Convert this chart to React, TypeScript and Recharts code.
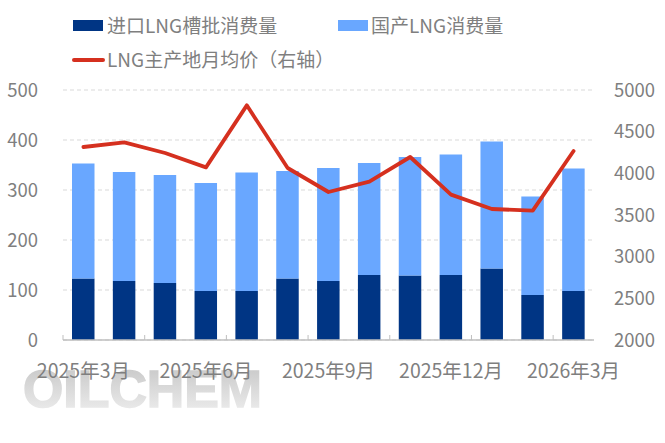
import { Bar, CartesianGrid, ComposedChart, Line, XAxis, YAxis } from "recharts";

const months = [
  "2025年3月", "2025年4月", "2025年5月", "2025年6月", "2025年7月", "2025年8月", "2025年9月",
  "2025年10月", "2025年11月", "2025年12月", "2026年1月", "2026年2月", "2026年3月",
];
const imported = [123, 118, 114, 98, 98, 123, 118, 130, 129, 130, 143, 90, 98];
const domestic = [230, 218, 216, 216, 237, 215, 226, 224, 237, 241, 254, 197, 245];
const price = [4316, 4372, 4244, 4072, 4816, 4064, 3776, 3900, 4196, 3744, 3572, 3552, 4268];
const leftTicks = [0, 100, 200, 300, 400, 500];
const rightTicks = [2000, 2500, 3000, 3500, 4000, 4500, 5000];

const rows = months.map((month, i) => ({
  month,
  imported: imported[i],
  domestic: domestic[i],
  price: price[i],
}));

const FONT = "'Noto Sans CJK SC', 'Noto Sans', sans-serif";
const GREY = "#7f7f7f";
const BAND = 531 / 13;

function MonthTick({ x, y, index, payload }: any) {
  const edge = x - BAND / 2;
  return (
    <g>
      {index % 2 === 0 && <line x1={edge} x2={edge} y1={y - 7} y2={y - 2} stroke="#bfbfbf" />}
      {index % 3 === 0 && (
        <text x={x} y={y + 36} textAnchor="middle" fill={GREY} fontSize={19.5} fontFamily={FONT}>
          {payload.value}
        </text>
      )}
    </g>
  );
}

function ChartLegend() {
  const text = { position: "absolute", color: GREY, fontSize: 19, lineHeight: "26px", whiteSpace: "nowrap" } as const;
  return (
    <div style={{ position: "absolute", left: 0, top: 0, width: 665, height: 80, fontFamily: FONT }}>
      <div style={{ position: "absolute", left: 73, top: 20, width: 30, height: 11, background: "#003584" }} />
      <div style={{ ...text, left: 107, top: 12 }}>进口LNG槽批消费量</div>
      <div style={{ position: "absolute", left: 338, top: 20, width: 30, height: 11, background: "#69a7ff" }} />
      <div style={{ ...text, left: 371, top: 12 }}>国产LNG消费量</div>
      <div style={{ position: "absolute", left: 72, top: 58, width: 33, height: 3.5, borderRadius: 2, background: "#d5301f" }} />
      <div style={{ ...text, left: 107, top: 46 }}>LNG主产地月均价（右轴）</div>
    </div>
  );
}

export default function App() {
  return (
    <div style={{ position: "absolute", left: 0, top: 0, width: 665, height: 443, background: "#fff", overflow: "hidden" }}>
      <svg width={665} height={443} style={{ position: "absolute", left: 0, top: 0 }}>
        <defs>
          <linearGradient id="mark" x1="0" y1="0" x2="0" y2="1">
            <stop offset="0" stopColor="#c4c4c4" />
            <stop offset="1" stopColor="#f0f0f0" />
          </linearGradient>
        </defs>
        <text
          x={23}
          y={407}
          fill="url(#mark)"
          stroke="url(#mark)"
          strokeWidth={1.5}
          fontSize={52}
          fontWeight={700}
          fontFamily="'Liberation Sans', sans-serif"
          textLength={239}
          lengthAdjust="spacingAndGlyphs"
        >
          OILCHEM
        </text>
      </svg>
      <ChartLegend />
      <div style={{ position: "absolute", left: 0, top: 0 }}>
        <ComposedChart
          width={665}
          height={443}
          data={rows}
          margin={{ top: 90, right: 0, bottom: 53, left: 0 }}
        >
          <CartesianGrid vertical={false} stroke="#d9d9d9" strokeDasharray="4 3" yAxisId="left" />
          <XAxis
            dataKey="month"
            interval={0}
            height={50}
            tickLine={false}
            tickSize={0}
            axisLine={{ stroke: "#bfbfbf", strokeWidth: 1.5 }}
            tick={<MonthTick />}
          />
          <YAxis
            yAxisId="left"
            width={63}
            domain={[0, 500]}
            ticks={leftTicks}
            tickLine={false}
            axisLine={false}
            tickSize={0}
            tickMargin={25}
            tick={{ fill: GREY, fontSize: 18.5, fontFamily: FONT }}
          />
          <YAxis
            yAxisId="right"
            orientation="right"
            width={71}
            domain={[2000, 5000]}
            ticks={rightTicks}
            tickLine={false}
            axisLine={false}
            tickSize={0}
            tickMargin={20}
            tick={{ fill: GREY, fontSize: 18.5, fontFamily: FONT }}
          />
          <Bar yAxisId="left" dataKey="imported" name="进口LNG槽批消费量" stackId="a" fill="#003584" barSize={22.5} isAnimationActive={false} />
          <Bar yAxisId="left" dataKey="domestic" name="国产LNG消费量" stackId="a" fill="#69a7ff" barSize={22.5} isAnimationActive={false} />
          <Line
            yAxisId="right"
            dataKey="price"
            name="LNG主产地月均价（右轴）"
            type="linear"
            stroke="#d5301f"
            strokeWidth={3.8}
            strokeLinecap="round"
            strokeLinejoin="round"
            dot={false}
            isAnimationActive={false}
          />
        </ComposedChart>
      </div>
    </div>
  );
}
